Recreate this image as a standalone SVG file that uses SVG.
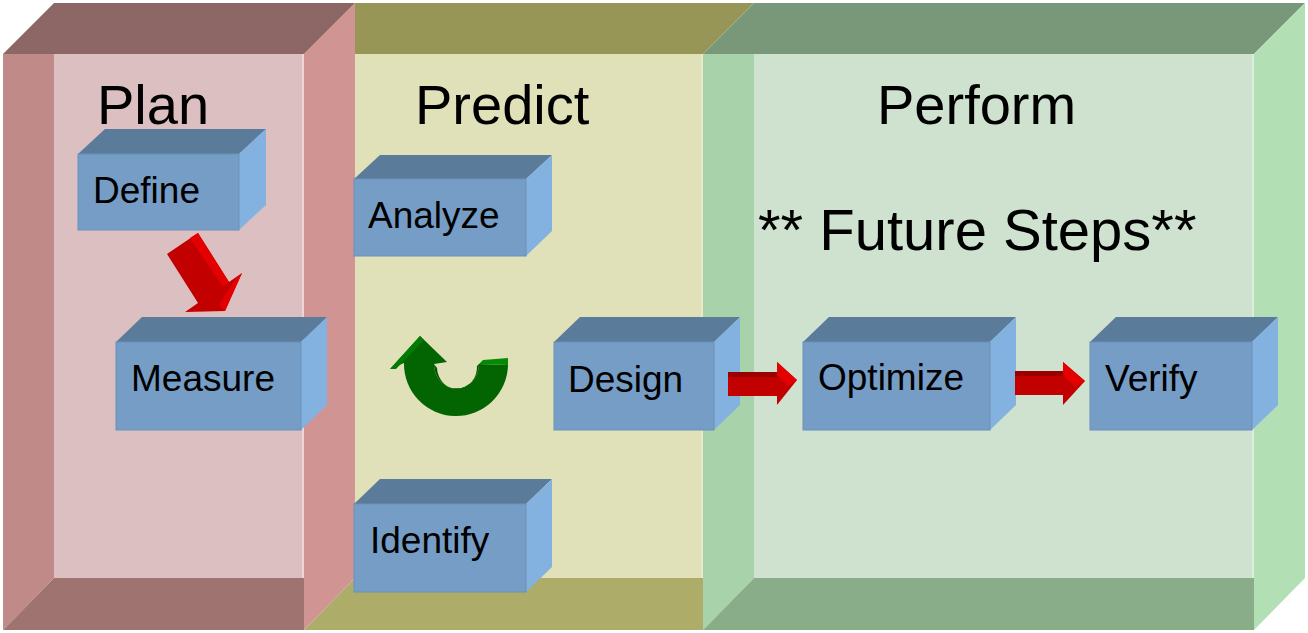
<svg xmlns="http://www.w3.org/2000/svg" width="1308" height="633" viewBox="0 0 1308 633">
<style>
.top{fill:#5b7b9b}
.front{fill:#759dc6;stroke:#6a91b9;stroke-width:1}
.side{fill:#84b2e0}
.lbl{font-family:"Liberation Sans",Arial,sans-serif;font-size:37px;fill:#000}
.hdr{font-family:"Liberation Sans",Arial,sans-serif;font-size:56px;fill:#000}
.arF{fill:#c20000}
.arT{fill:#990000}
.arS{fill:#e40000}
</style>
<rect width="1308" height="633" fill="#ffffff"/>
<g id="predict">
<polygon points="304,54 355,3 754,3 703,54" fill="#979657"/>
<rect x="355" y="54" width="348" height="524" fill="#e0e0b9"/>
<polygon points="304,630 355,578 703,578 703,630" fill="#adac69"/>
<line x1="702" y1="54" x2="702" y2="578" stroke="#eeeecc" stroke-width="1.5"/>
</g>
<g id="plan">
<polygon points="3,54 54,3 355,3 304,54" fill="#8c6766"/>
<polygon points="3,54 54,54 54,578 3,630" fill="#c08a89"/>
<rect x="54" y="54" width="250" height="524" fill="#dbbfc1"/>
<polygon points="3,630 54,578 304,578 304,630" fill="#9f7370"/>
<line x1="303" y1="54" x2="303" y2="578" stroke="#f2dede" stroke-width="1.5"/>
<polygon points="304,54 355,3 355,578 304,630" fill="#d09593"/>
</g>
<g id="perform">
<polygon points="703,54 754,3 1305,3 1254,54" fill="#799779"/>
<polygon points="703,54 754,54 754,578 703,630" fill="#a8d3aa"/>
<rect x="754" y="54" width="500" height="524" fill="#cfe2cf"/>
<polygon points="703,630 754,578 1254,578 1254,630" fill="#8aad89"/>
<line x1="1253" y1="54" x2="1253" y2="578" stroke="#e2efe2" stroke-width="1.5"/>
<polygon points="1254,54 1305,3 1305,578 1254,630" fill="#b3dfb4"/>
</g>
<g id="headers">
<text class="hdr" x="97" y="124">Plan</text>
<text class="hdr" x="415" y="124">Predict</text>
<text class="hdr" x="877" y="124">Perform</text>
<text x="758" y="250" font-family="Liberation Sans,Arial,sans-serif" font-size="58" fill="#000">** Future Steps**</text>
</g>
<g id="define">
<polygon class="top" points="78,154 105,129 266,129 239,154"/>
<polygon class="side" points="239,154 266,129 266,205 239,230"/>
<rect class="front" x="78" y="154" width="161" height="76"/>
<text class="lbl" x="93" y="203">Define</text>
</g>
<g id="measure">
<polygon class="top" points="116,342 142,317 327,317 301,342"/>
<polygon class="side" points="301,342 327,317 327,405 301,430"/>
<rect class="front" x="116" y="342" width="185" height="88"/>
<text class="lbl" x="131" y="391">Measure</text>
</g>
<g id="analyze">
<polygon class="top" points="354,179 380,155 552,155 526,179"/>
<polygon class="side" points="526,179 552,155 552,231 526,256"/>
<rect class="front" x="354" y="179" width="172" height="77"/>
<text class="lbl" x="368" y="228">Analyze</text>
</g>
<g id="identify">
<polygon class="top" points="354,504 380,479 552,479 526,504"/>
<polygon class="side" points="526,504 552,479 552,567 526,592"/>
<rect class="front" x="354" y="504" width="172" height="88"/>
<text class="lbl" x="370" y="553">Identify</text>
</g>
<g id="design">
<polygon class="top" points="554,342 580,317 740,317 714,342"/>
<polygon class="side" points="714,342 740,317 740,405 714,430"/>
<rect class="front" x="554" y="342" width="160" height="88"/>
<text class="lbl" x="568" y="392">Design</text>
</g>
<g id="optimize">
<polygon class="top" points="803,342 829,317 1016,317 990,342"/>
<polygon class="side" points="990,342 1016,317 1016,405 990,430"/>
<rect class="front" x="803" y="342" width="187" height="88"/>
<text class="lbl" x="818" y="390">Optimize</text>
</g>
<g id="verify">
<polygon class="top" points="1090,342 1116,317 1278,317 1252,342"/>
<polygon class="side" points="1252,342 1278,317 1278,405 1252,430"/>
<rect class="front" x="1090" y="342" width="162" height="88"/>
<text class="lbl" x="1105" y="391">Verify</text>
</g>
<g id="connectors">
<g id="define-measure">
<polygon class="arF" points="167,254 198,233 229,282 242,273 225,311 185,312 198,303"/>
<polygon class="arS" points="190,238 198,233 229,282 223,287"/>
<polygon class="arS" points="242,273 225,311 219,305 236,278"/>
</g>
<g id="design-optimize">
<rect class="arT" x="728" y="372" width="49" height="6"/>
<rect class="arF" x="728" y="377" width="49" height="19"/>
<polygon class="arF" points="777,362 797,380 777,405"/>
<polygon class="arS" points="777,362 797,380 788,386 777,375"/>
</g>
<g id="optimize-verify">
<rect class="arT" x="1015" y="371" width="48" height="6"/>
<rect class="arF" x="1015" y="376" width="48" height="19"/>
<polygon class="arF" points="1063,362 1085,381 1063,405"/>
<polygon class="arS" points="1063,362 1085,381 1075,387 1063,375"/>
</g>
<g id="loop">
<path d="M508,365 A52,52 0 0 1 404,363 L390,369 L420,336 L447,362 L434,364 A22,24 0 0 0 479,364 Z" fill="#026502"/>
<path d="M434,364 A22,24 0 0 0 479,364 L477,366 A20,22 0 0 1 437,368 Z" fill="#015501"/>
<polygon points="479,364 508,365 508,358 483,360" fill="#058a05"/>
<polygon points="390,369 420,336 424,340 396,369" fill="#047a04"/>
</g>
</g>
</svg>
